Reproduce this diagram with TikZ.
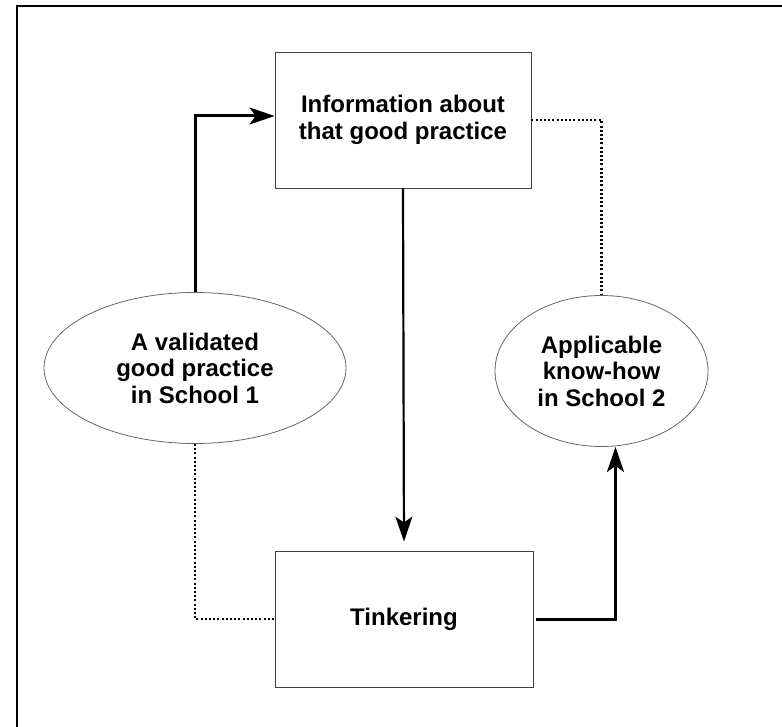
\documentclass[tikz,border=0pt]{standalone}
\usepackage{fontspec}
\setmainfont{Liberation Sans}
\usetikzlibrary{shapes.geometric, arrows.meta}

\begin{document}
\begin{tikzpicture}[x=1pt, y=-1pt]
\tikzstyle{boxnode}=[rectangle, draw=black!75, line width=0.9pt, align=center,
                        font=\fontsize{24}{26.5}\selectfont\bfseries]
\tikzstyle{ovalnode}=[ellipse, draw=black!60, line width=0.8pt, align=center, inner sep=0pt,
                        font=\fontsize{24}{26.5}\selectfont\bfseries]
\tikzstyle{flow}=[-{Stealth[length=25pt, width=17pt, inset=6pt]}]
\tikzstyle{dots}=[line width=2.2pt, dash pattern=on 2pt off 2.2pt]
\useasboundingbox (0,0) rectangle (782,727);
\draw[line width=1.5pt] (17,6) rectangle (800,750);
	\node[boxnode, minimum width=256pt, minimum height=136pt] (info) at (403,120) {Information about\\that good practice};
	\node[boxnode, minimum width=258pt, minimum height=136pt] (tink) at (404,619) {Tinkering};
	\node[ovalnode, minimum width=302pt, minimum height=151pt] (val) at (195,368) {A validated\\good practice\\in School 1};
	\node[ovalnode, minimum width=213pt, minimum height=151pt] (know) at (601.5,371) {Applicable\\know-how\\in School 2};
\draw[flow, line width=3pt] (val.north) |- ([yshift=4pt]info.west);
\draw[dots] (info.east) -| (know.north);
\draw[flow, line width=2.2pt, shorten >=9pt] (info.south) -- (tink.north);
\draw[dots] (val.south) |- (tink.west);
\draw[flow, line width=3pt] ([xshift=3pt]tink.east) -| ([xshift=14pt]know.south);
\end{tikzpicture}
\end{document}
